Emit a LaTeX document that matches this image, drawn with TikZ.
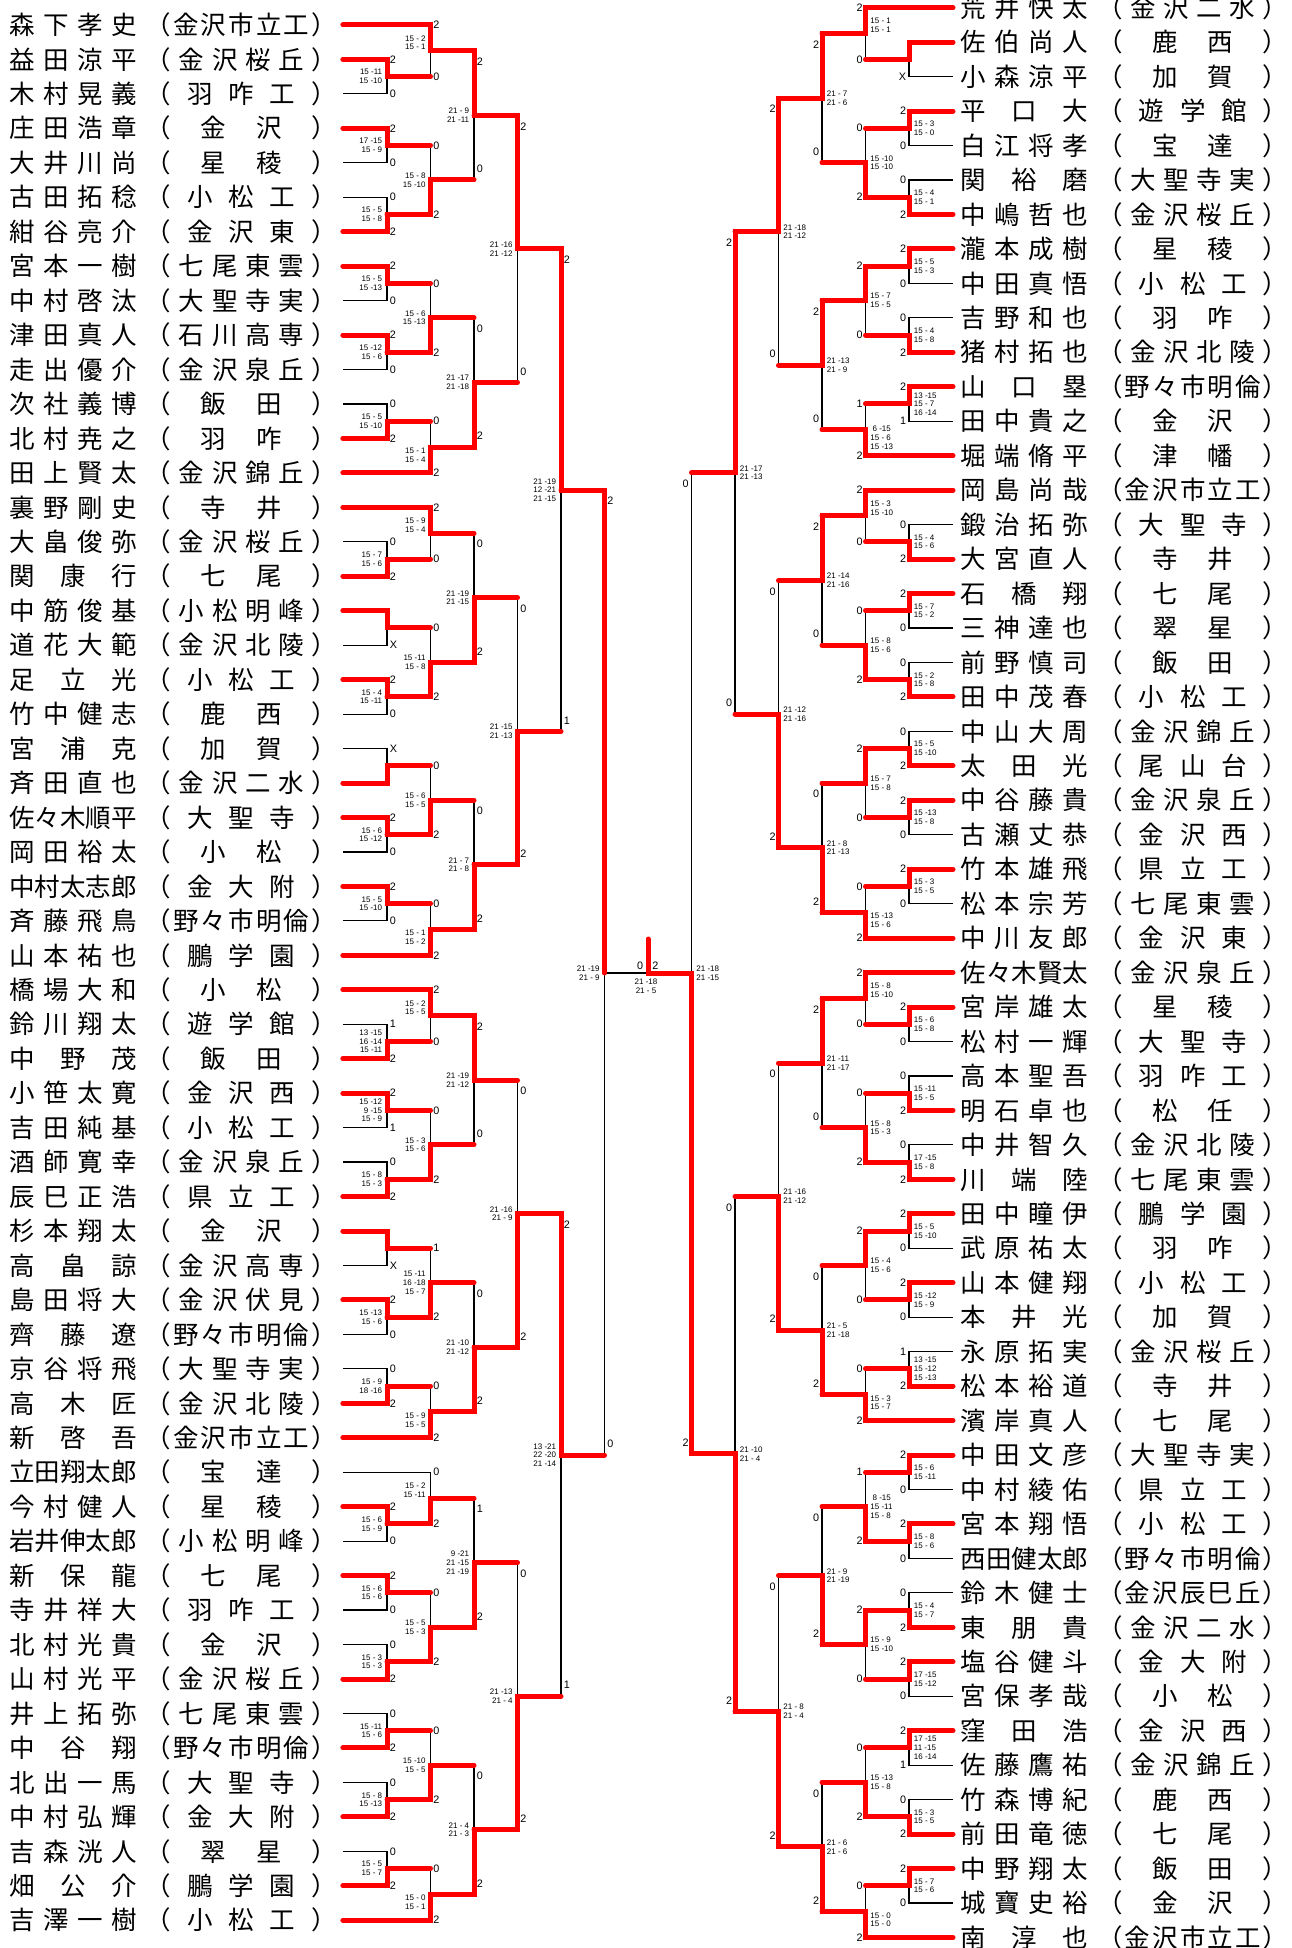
\documentclass[tikz,border=0pt]{standalone}
\usepackage{fontspec}
\usepackage{tikz}
\usetikzlibrary{calc,backgrounds}
\newfontfamily\jpf{Noto Sans CJK JP}
\newfontfamily\numf{Liberation Sans}

\def\jfirst#1#2\relax{#1\jrest#2\relax}
\def\jrest#1{\ifx\relax#1\else\hfill#1\expandafter\jrest\fi}
\newcommand{\pname}[2]{\hbox to 5em{\expandafter\jfirst#1\relax}\hspace{0.35em}（\hbox to 5.49em{\expandafter\jrest#2\relax\hfill}）}
\newcommand{\mt}[8][0]{%
  \coordinate (#2s) at ($(#3e)!0.5!(#4e)$);
  \coordinate (#2e) at ($(#2s)+({\dx*43.5},0)$);
  \begin{pgfonlayer}{background}
    \draw[lose] (#3s) -- (#3e) -- (#4e) -- (#4s);
  \end{pgfonlayer}
  \draw[win] (#5s) -- (#5e) -- (#2s) -- (#2e);
  \node[cnt] (#2t) at ($(#3e)+({\dx*2.5},\lo)$) {#6};
  \node[cnt] (#2b) at ($(#4e)+({\dx*2.5},-\lo)$) {#7};
  \node[sc] (#2c) at ($(#2s)+({-4.5*\dx},#1)$) {#8};
}

\begin{document}
\begin{tikzpicture}[x=0.5pt,y=-0.5pt,
  plname/.style={anchor=west,inner sep=0pt,text height=11.2pt,text depth=1.5pt,
                 font=\jpf\fontsize{12.75pt}{15pt}\selectfont},
  win/.style={draw=red,line width=2.5pt,line cap=round},
  lose/.style={draw=black,line width=0.6pt},
  cnt/.style={inner sep=0pt,font=\numf\fontsize{5.4pt}{6pt}\selectfont},
  sc/.style={inner sep=0pt,font=\numf\fontsize{4pt}{4.35pt}\selectfont}
]
\useasboundingbox (0,0) rectangle (1291,1948);

\begin{scope}[cnt/.append style={anchor=west},sc/.append style={anchor=east,align=right}]
\def\dx{1}
\foreach \nm/\sch/\by [count=\i] in {森下孝史/金沢市立工/1,益田涼平/金沢桜丘/0,木村晃義/羽咋工/0,
  庄田浩章/金沢/0,大井川尚/星稜/0,古田拓稔/小松工/0,紺谷亮介/金沢東/0,宮本一樹/七尾東雲/0,
  中村啓汰/大聖寺実/0,津田真人/石川高専/0,走出優介/金沢泉丘/0,次社義博/飯田/0,北村尭之/羽咋/0,
  田上賢太/金沢錦丘/1,裏野剛史/寺井/1,大畠俊弥/金沢桜丘/0,関康行/七尾/0,中筋俊基/小松明峰/0,
  道花大範/金沢北陵/0,足立光/小松工/0,竹中健志/鹿西/0,宮浦克/加賀/0,斉田直也/金沢二水/0,
  佐々木順平/大聖寺/0,岡田裕太/小松/0,中村太志郎/金大附/0,斉藤飛鳥/野々市明倫/0,山本祐也/鵬学園/1,
  橋場大和/小松/1,鈴川翔太/遊学館/0,中野茂/飯田/0,小笹太寛/金沢西/0,吉田純基/小松工/0,
  酒師寛幸/金沢泉丘/0,辰巳正浩/県立工/0,杉本翔太/金沢/0,高畠諒/金沢高専/0,島田将大/金沢伏見/0,
  齊藤遼/野々市明倫/0,京谷将飛/大聖寺実/0,高木匠/金沢北陵/0,新啓吾/金沢市立工/1,
  立田翔太郎/宝達/1,今村健人/星稜/0,岩井伸太郎/小松明峰/0,新保龍/七尾/0,寺井祥大/羽咋工/0,
  北村光貴/金沢/0,山村光平/金沢桜丘/0,井上拓弥/七尾東雲/0,中谷翔/野々市明倫/0,北出一馬/大聖寺/0,
  中村弘輝/金大附/0,吉森洸人/翠星/0,畑公介/鵬学園/0,吉澤一樹/小松工/1}{
  \node[plname] (pl\i) at (9,{24.9+(\i-1)*34.46}) {\pname{\nm}{\sch}};
  \coordinate (pl\i s) at ([xshift=2.8pt]pl\i.east);
  \coordinate (pl\i e) at ({387+43.5*\by},{24.9+(\i-1)*34.46});
}
\def\lo{0}
\mt{a1}{pl2}{pl3}{pl2}{2}{0}{15 -11\\15 -10}
\mt{a2}{pl4}{pl5}{pl4}{2}{0}{17 -15\\15 - 9}
\mt{a3}{pl6}{pl7}{pl7}{0}{2}{15 - 5\\15 - 8}
\mt{a4}{pl8}{pl9}{pl8}{2}{0}{15 - 5\\15 -13}
\mt{a5}{pl10}{pl11}{pl10}{2}{0}{15 -12\\15 - 6}
\mt{a6}{pl12}{pl13}{pl13}{0}{2}{15 - 5\\15 -10}
\mt{a7}{pl16}{pl17}{pl17}{0}{2}{15 - 7\\15 - 6}
\mt{a8}{pl18}{pl19}{pl18}{}{X}{}
\mt{a9}{pl20}{pl21}{pl20}{2}{0}{15 - 4\\15 -11}
\mt{a10}{pl22}{pl23}{pl23}{X}{}{}
\mt{a11}{pl24}{pl25}{pl24}{2}{0}{15 - 6\\15 -12}
\mt{a12}{pl26}{pl27}{pl26}{2}{0}{15 - 5\\15 -10}
\mt{a13}{pl30}{pl31}{pl31}{1}{2}{13 -15\\16 -14\\15 -11}
\mt{a14}{pl32}{pl33}{pl32}{2}{1}{15 -12\\9 -15\\15 - 9}
\mt{a15}{pl34}{pl35}{pl35}{0}{2}{15 - 8\\15 - 3}
\mt{a16}{pl36}{pl37}{pl36}{}{X}{}
\mt{a17}{pl38}{pl39}{pl38}{2}{0}{15 -13\\15 - 6}
\mt{a18}{pl40}{pl41}{pl41}{0}{2}{15 - 9\\18 -16}
\mt{a19}{pl44}{pl45}{pl44}{2}{0}{15 - 6\\15 - 9}
\mt{a20}{pl46}{pl47}{pl46}{2}{0}{15 - 6\\15 - 6}
\mt{a21}{pl48}{pl49}{pl49}{0}{2}{15 - 3\\15 - 3}
\mt{a22}{pl50}{pl51}{pl51}{0}{2}{15 -11\\15 - 6}
\mt{a23}{pl52}{pl53}{pl53}{0}{2}{15 - 8\\15 -13}
\mt{a24}{pl54}{pl55}{pl55}{0}{2}{15 - 5\\15 - 7}
\mt[-8]{b1}{pl1}{a1}{pl1}{2}{0}{15 - 2\\15 - 1}
\mt{b2}{a2}{a3}{a3}{0}{2}{15 - 8\\15 -10}
\mt{b3}{a4}{a5}{a5}{0}{2}{15 - 6\\15 -13}
\mt[8]{b4}{a6}{pl14}{pl14}{0}{2}{15 - 1\\15 - 4}
\mt[-8]{b5}{pl15}{a7}{pl15}{2}{0}{15 - 9\\15 - 4}
\mt{b6}{a8}{a9}{a9}{0}{2}{15 -11\\15 - 8}
\mt{b7}{a10}{a11}{a11}{0}{2}{15 - 6\\15 - 5}
\mt[8]{b8}{a12}{pl28}{pl28}{0}{2}{15 - 1\\15 - 2}
\mt[-8]{b9}{pl29}{a13}{pl29}{2}{0}{15 - 2\\15 - 5}
\mt{b10}{a14}{a15}{a15}{0}{2}{15 - 3\\15 - 6}
\mt{b11}{a16}{a17}{a17}{1}{2}{15 -11\\16 -18\\15 - 7}
\mt[8]{b12}{a18}{pl42}{pl42}{0}{2}{15 - 9\\15 - 5}
\mt[-8]{b13}{pl43}{a19}{a19}{0}{2}{15 - 2\\15 -11}
\mt{b14}{a20}{a21}{a21}{0}{2}{15 - 5\\15 - 3}
\mt{b15}{a22}{a23}{a23}{0}{2}{15 -10\\15 - 5}
\mt[8]{b16}{a24}{pl56}{pl56}{0}{2}{15 - 0\\15 - 1}
\def\lo{11}
\mt{c1}{b1}{b2}{b1}{2}{0}{21 - 9\\21 -11}
\mt{c2}{b3}{b4}{b4}{0}{2}{21 -17\\21 -18}
\mt{c3}{b5}{b6}{b6}{0}{2}{21 -19\\21 -15}
\mt{c4}{b7}{b8}{b8}{0}{2}{21 - 7\\21 - 8}
\mt{c5}{b9}{b10}{b9}{2}{0}{21 -19\\21 -12}
\mt{c6}{b11}{b12}{b12}{0}{2}{21 -10\\21 -12}
\mt{c7}{b13}{b14}{b14}{1}{2}{9 -21\\21 -15\\21 -19}
\mt{c8}{b15}{b16}{b16}{0}{2}{21 - 4\\21 - 3}
\mt{d1}{c1}{c2}{c1}{2}{0}{21 -16\\21 -12}
\mt{d2}{c3}{c4}{c4}{0}{2}{21 -15\\21 -13}
\mt{d3}{c5}{c6}{c6}{0}{2}{21 -16\\21 - 9}
\mt{d4}{c7}{c8}{c8}{0}{2}{21 -13\\21 - 4}
\mt{e1}{d1}{d2}{d1}{2}{1}{21 -19\\12 -21\\21 -15}
\mt{e2}{d3}{d4}{d3}{2}{1}{13 -21\\22 -20\\21 -14}
\end{scope}

\begin{scope}[cnt/.append style={anchor=east},sc/.append style={anchor=west,align=left}]
\def\dx{-1}
\foreach \nm/\sch/\by [count=\i] in {荒井快太/金沢二水/1,佐伯尚人/鹿西/0,小森涼平/加賀/0,
  平口大/遊学館/0,白江将孝/宝達/0,関裕磨/大聖寺実/0,中嶋哲也/金沢桜丘/0,瀧本成樹/星稜/0,
  中田真悟/小松工/0,吉野和也/羽咋/0,猪村拓也/金沢北陵/0,山口塁/野々市明倫/0,田中貴之/金沢/0,
  堀端脩平/津幡/1,岡島尚哉/金沢市立工/1,鍛治拓弥/大聖寺/0,大宮直人/寺井/0,石橋翔/七尾/0,
  三神達也/翠星/0,前野慎司/飯田/0,田中茂春/小松工/0,中山大周/金沢錦丘/0,太田光/尾山台/0,
  中谷藤貴/金沢泉丘/0,古瀬丈恭/金沢西/0,竹本雄飛/県立工/0,松本宗芳/七尾東雲/0,中川友郎/金沢東/1,
  佐々木賢太/金沢泉丘/1,宮岸雄太/星稜/0,松村一輝/大聖寺/0,高本聖吾/羽咋工/0,明石卓也/松任/0,
  中井智久/金沢北陵/0,川端陸/七尾東雲/0,田中瞳伊/鵬学園/0,武原祐太/羽咋/0,山本健翔/小松工/0,
  本井光/加賀/0,永原拓実/金沢桜丘/0,松本裕道/寺井/0,濱岸真人/七尾/1,
  中田文彦/大聖寺実/0,中村綾佑/県立工/0,宮本翔悟/小松工/0,西田健太郎/野々市明倫/0,
  鈴木健士/金沢辰巳丘/0,東朋貴/金沢二水/0,塩谷健斗/金大附/0,宮保孝哉/小松/0,窪田浩/金沢西/0,
  佐藤鷹祐/金沢錦丘/0,竹森博紀/鹿西/0,前田竜徳/七尾/0,中野翔太/飯田/0,城寶史裕/金沢/0,
  南淳也/金沢市立工/1}{
  \node[plname] (pr\i) at (960.5,{24.9+(\i-1.5)*34.46}) {\pname{\nm}{\sch}};
  \coordinate (pr\i s) at ([xshift=-3.75pt]pr\i.west);
  \coordinate (pr\i e) at ({909-43.5*\by},{24.9+(\i-1.5)*34.46});
}
\def\lo{0}
\mt{f1}{pr2}{pr3}{pr2}{}{X}{}
\mt{f2}{pr4}{pr5}{pr4}{2}{0}{15 - 3\\15 - 0}
\mt{f3}{pr6}{pr7}{pr7}{0}{2}{15 - 4\\15 - 1}
\mt{f4}{pr8}{pr9}{pr8}{2}{0}{15 - 5\\15 - 3}
\mt{f5}{pr10}{pr11}{pr11}{0}{2}{15 - 4\\15 - 8}
\mt{f6}{pr12}{pr13}{pr12}{2}{1}{13 -15\\15 - 7\\16 -14}
\mt{f7}{pr16}{pr17}{pr17}{0}{2}{15 - 4\\15 - 6}
\mt{f8}{pr18}{pr19}{pr18}{2}{0}{15 - 7\\15 - 2}
\mt{f9}{pr20}{pr21}{pr21}{0}{2}{15 - 2\\15 - 8}
\mt{f10}{pr22}{pr23}{pr23}{0}{2}{15 - 5\\15 -10}
\mt{f11}{pr24}{pr25}{pr24}{2}{0}{15 -13\\15 - 8}
\mt{f12}{pr26}{pr27}{pr26}{2}{0}{15 - 3\\15 - 5}
\mt{f13}{pr30}{pr31}{pr30}{2}{0}{15 - 6\\15 - 8}
\mt{f14}{pr32}{pr33}{pr33}{0}{2}{15 -11\\15 - 5}
\mt{f15}{pr34}{pr35}{pr35}{0}{2}{17 -15\\15 - 8}
\mt{f16}{pr36}{pr37}{pr36}{2}{0}{15 - 5\\15 -10}
\mt{f17}{pr38}{pr39}{pr38}{2}{0}{15 -12\\15 - 9}
\mt{f18}{pr40}{pr41}{pr41}{1}{2}{13 -15\\15 -12\\15 -13}
\mt{f19}{pr43}{pr44}{pr43}{2}{0}{15 - 6\\15 -11}
\mt{f20}{pr45}{pr46}{pr45}{2}{0}{15 - 8\\15 - 6}
\mt{f21}{pr47}{pr48}{pr48}{0}{2}{15 - 4\\15 - 7}
\mt{f22}{pr49}{pr50}{pr49}{2}{0}{17 -15\\15 -12}
\mt{f23}{pr51}{pr52}{pr51}{2}{1}{17 -15\\11 -15\\16 -14}
\mt{f24}{pr53}{pr54}{pr54}{0}{2}{15 - 3\\15 - 5}
\mt{f25}{pr55}{pr56}{pr55}{2}{0}{15 - 7\\15 - 6}
\mt[-8]{g1}{pr1}{f1}{pr1}{2}{0}{15 - 1\\15 - 1}
\mt{g2}{f2}{f3}{f3}{0}{2}{15 -10\\15 -10}
\mt{g3}{f4}{f5}{f4}{2}{0}{15 - 7\\15 - 5}
\mt[8]{g4}{f6}{pr14}{pr14}{1}{2}{\hspace*{1.1pt}6 -15\\15 - 6\\15 -13}
\mt[-8]{g5}{pr15}{f7}{pr15}{2}{0}{15 - 3\\15 -10}
\mt{g6}{f8}{f9}{f9}{0}{2}{15 - 8\\15 - 6}
\mt{g7}{f10}{f11}{f10}{2}{0}{15 - 7\\15 - 8}
\mt[8]{g8}{f12}{pr28}{pr28}{0}{2}{15 -13\\15 - 6}
\mt[-8]{g9}{pr29}{f13}{pr29}{2}{0}{15 - 8\\15 -10}
\mt{g10}{f14}{f15}{f15}{0}{2}{15 - 8\\15 - 3}
\mt{g11}{f16}{f17}{f16}{2}{0}{15 - 4\\15 - 6}
\mt[8]{g12}{f18}{pr42}{pr42}{0}{2}{15 - 3\\15 - 7}
\mt{g13}{f19}{f20}{f20}{1}{2}{\hspace*{1.1pt}8 -15\\15 -11\\15 - 8}
\mt{g14}{f21}{f22}{f21}{2}{0}{15 - 9\\15 -10}
\mt{g15}{f23}{f24}{f24}{0}{2}{15 -13\\15 - 8}
\mt[8]{g16}{f25}{pr57}{pr57}{0}{2}{15 - 0\\15 - 0}
\def\lo{11}
\mt{h1}{g1}{g2}{g1}{2}{0}{21 - 7\\21 - 6}
\mt{h2}{g3}{g4}{g3}{2}{0}{21 -13\\21 - 9}
\mt{h3}{g5}{g6}{g5}{2}{0}{21 -14\\21 -16}
\mt{h4}{g7}{g8}{g8}{0}{2}{21 - 8\\21 -13}
\mt{h5}{g9}{g10}{g9}{2}{0}{21 -11\\21 -17}
\mt{h6}{g11}{g12}{g12}{0}{2}{21 - 5\\21 -18}
\mt{h7}{g13}{g14}{g14}{0}{2}{21 - 9\\21 -19}
\mt{h8}{g15}{g16}{g16}{0}{2}{21 - 6\\21 - 6}
\mt{i1}{h1}{h2}{h1}{2}{0}{21 -18\\21 -12}
\mt{i2}{h3}{h4}{h4}{0}{2}{21 -12\\21 -16}
\mt{i3}{h5}{h6}{h6}{0}{2}{21 -16\\21 -12}
\mt{i4}{h7}{h8}{h8}{0}{2}{21 - 8\\21 - 4}
\mt{j1}{i1}{i2}{i1}{2}{0}{21 -17\\21 -13}
\mt{j2}{i3}{i4}{i4}{0}{2}{21 -10\\21 - 4}
\end{scope}

\coordinate (lsf) at (604.5,973);
\coordinate (rsf) at (691.5,973);
\coordinate (fin) at (648,973);
\coordinate (fintop) at (648,939);
\begin{pgfonlayer}{background}
  \draw[lose] (e1e) -- (e2e);
  \draw[lose] (j1e) -- (j2e);
  \draw[lose] (lsf) -- (fin);
\end{pgfonlayer}
\draw[win] (e1s) -- (e1e) -- (lsf);
\draw[win] (j2s) -- (j2e) -- (rsf) -- (fin) -- (fintop);
\node[cnt,anchor=west] (lsft) at ($(e1e)+(2.5,11)$) {2};
\node[cnt,anchor=west] (lsfb) at ($(e2e)+(2.5,-11)$) {0};
\node[sc,anchor=east,align=right] (lsfc) at ($(lsf)+(-4.5,0)$) {21 -19\\21 - 9};
\node[cnt,anchor=east] (rsft) at ($(j1e)+(-2.5,11)$) {0};
\node[cnt,anchor=east] (rsfb) at ($(j2e)+(-2.5,-11)$) {2};
\node[sc,anchor=west,align=left] (rsfc) at ($(rsf)+(4.5,0)$) {21 -18\\21 -15};
\node[cnt,anchor=east] (fl) at (643.5,966) {0};
\node[cnt,anchor=west] (fr) at (652,966) {2};
\node[sc,align=center] (fc) at (646,986) {21 -18\\21 - 5};
\end{tikzpicture}
\end{document}
